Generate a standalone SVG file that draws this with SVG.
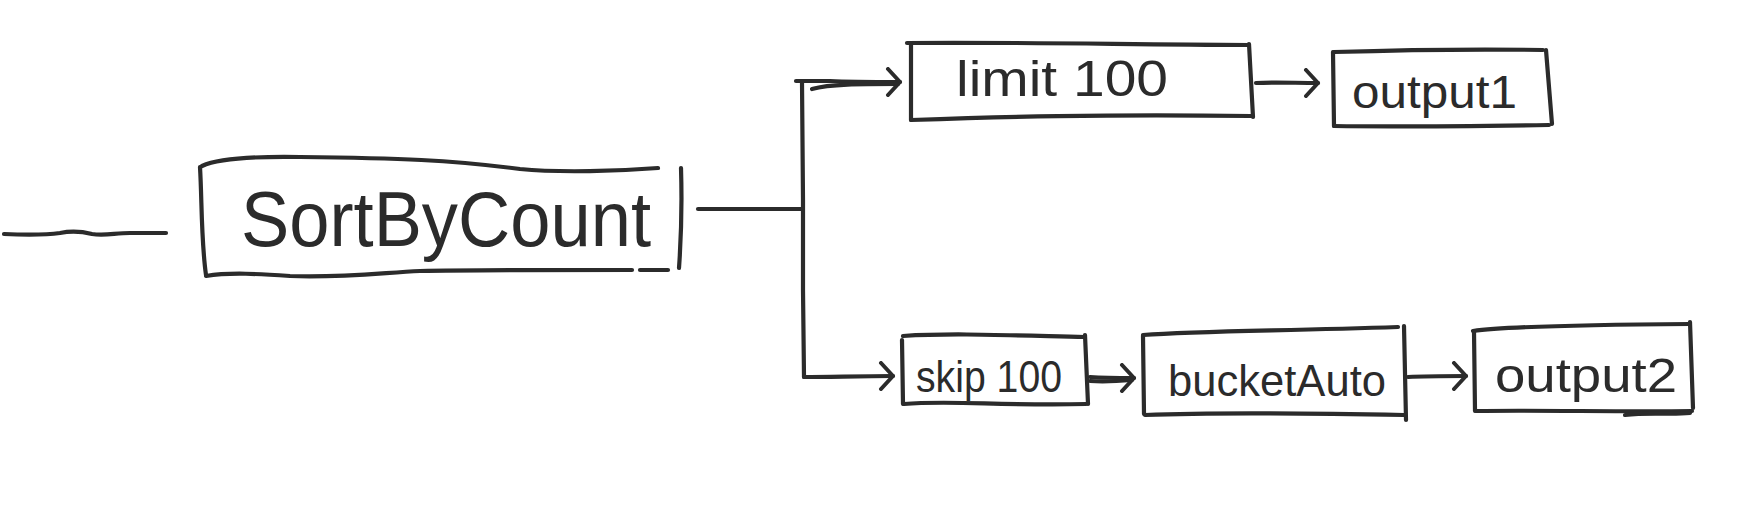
<svg xmlns="http://www.w3.org/2000/svg" width="1742" height="514" viewBox="0 0 1742 514">
<defs>
<style>
.s{fill:none;stroke:#2b2b2b;stroke-width:4.2;stroke-linecap:round;stroke-linejoin:round}
.t{font-family:"Liberation Sans","DejaVu Sans",sans-serif;fill:#2b2b2b;font-weight:normal}
</style>
<marker id="ah" markerWidth="24" markerHeight="30" refX="17" refY="15" orient="auto" markerUnits="userSpaceOnUse">
<path d="M5,2 L17,15 L5,28" fill="none" stroke="#2b2b2b" stroke-width="4" stroke-linecap="round" stroke-linejoin="round"/>
</marker>
</defs>
<rect width="1742" height="514" fill="#ffffff"/>
<g id="connectors">
<path class="s" d="M4,234 C30,235 45,235 60,233 C70,231 80,231 92,234 C105,236 115,233 130,233 L166,233"/>
<path class="s" d="M698,209 L802,209"/>
<path class="s" d="M802,82 L803,200 L803,290 L804,377"/>
<path class="s" d="M796,81 L830,81 C850,82 870,82 900,82" marker-end="url(#ah)"/>
<path class="s" d="M812,89 C830,84 860,84 898,84"/>
<path class="s" d="M804,377 C830,377 860,376 893,376" marker-end="url(#ah)"/>
<path class="s" d="M1256,83 C1275,82 1295,83 1318,83" marker-end="url(#ah)"/>
<path class="s" d="M1090,377 C1105,378 1120,378 1134,378" marker-end="url(#ah)"/>
<path class="s" d="M1090,381 C1105,382 1120,381 1132,380"/>
<path class="s" d="M1408,377 C1425,376 1445,376 1466,376" marker-end="url(#ah)"/>
</g>
<g id="node-sortbycount">
<path class="s" d="M202,166 C215,160 240,156 300,157 C400,158 450,160 520,169 C560,173 620,171 658,168"/>
<path class="s" d="M200,167 C202,200 201,240 206,275"/>
<path class="s" d="M206,276 C230,272 260,274 290,276 C340,278 380,273 420,271 C470,270 520,270 632,270"/>
<path class="s" d="M640,270 L668,270"/>
<path class="s" d="M681,168 C682,200 681,240 679,268"/>
<text class="t" x="241" y="246" font-size="78" textLength="410" lengthAdjust="spacingAndGlyphs">SortByCount</text>
</g>
<g id="node-limit100">
<path class="s" d="M907,43 C1000,42 1100,44 1249,45"/>
<path class="s" d="M911,45 L911,120"/>
<path class="s" d="M911,120 C1000,117 1100,114 1251,116"/>
<path class="s" d="M1249,44 L1253,117"/>
<text class="t" x="956" y="96" font-size="50" textLength="212" lengthAdjust="spacingAndGlyphs">limit 100</text>
</g>
<g id="node-output1">
<path class="s" d="M1334,52 C1400,50 1480,49 1543,50"/>
<path class="s" d="M1333,52 L1334,126"/>
<path class="s" d="M1334,126 C1400,127 1480,126 1549,125"/>
<path class="s" d="M1546,50 L1552,124"/>
<text class="t" x="1352" y="108" font-size="46" textLength="165" lengthAdjust="spacingAndGlyphs">output1</text>
</g>
<g id="node-skip100">
<path class="s" d="M903,336 C950,333 1000,335 1085,337"/>
<path class="s" d="M902,340 L903,404"/>
<path class="s" d="M904,404 C950,400 1000,406 1086,404"/>
<path class="s" d="M1085,335 L1088,404"/>
<text class="t" x="916" y="392" font-size="44" textLength="146" lengthAdjust="spacingAndGlyphs">skip 100</text>
</g>
<g id="node-bucketauto">
<path class="s" d="M1143,335 C1200,331 1280,331 1398,327"/>
<path class="s" d="M1143,336 L1144,414"/>
<path class="s" d="M1145,415 C1220,412 1300,413 1404,415"/>
<path class="s" d="M1404,326 L1406,420"/>
<text class="t" x="1168" y="396" font-size="44" textLength="218" lengthAdjust="spacingAndGlyphs">bucketAuto</text>
</g>
<g id="node-output2">
<path class="s" d="M1473,331 C1500,327 1560,325 1690,324"/>
<path class="s" d="M1474,331 L1475,411"/>
<path class="s" d="M1476,411 C1540,410 1620,412 1692,411"/>
<path class="s" d="M1625,415 C1650,412 1670,415 1690,413"/>
<path class="s" d="M1690,322 L1693,408"/>
<text class="t" x="1495" y="392" font-size="48" textLength="182" lengthAdjust="spacingAndGlyphs">output2</text>
</g>
</svg>
